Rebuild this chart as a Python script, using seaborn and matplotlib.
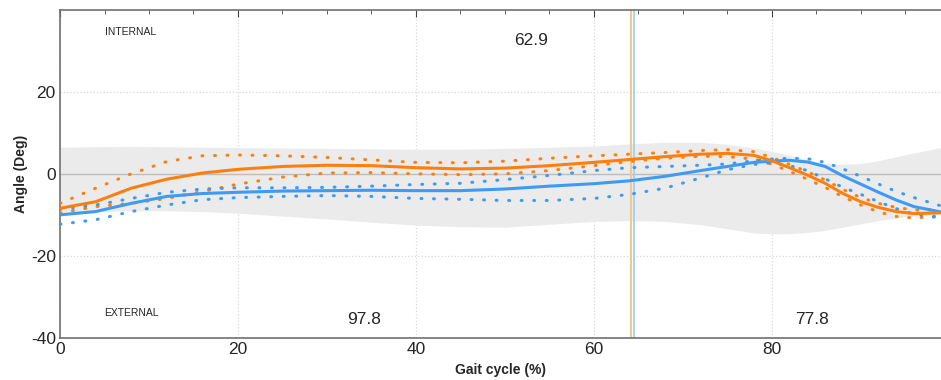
import numpy as np
import pandas as pd
import seaborn as sns
import matplotlib.pyplot as plt

# gait cycle positions (%)
cycle = [0, 4, 8, 12, 16, 20, 25, 30, 35, 40, 45, 50, 55, 60, 64, 68, 72,
         75, 78, 80, 82, 84, 86, 88, 90, 92, 94, 96, 99]

# orange side
orange_mean = [-8.4, -6.8, -3.5, -1.3, 0.2, 1.1, 1.8, 2.1, 2.0, 1.5, 1.2, 1.4,
               2.0, 2.8, 3.5, 4.2, 4.8, 5.0, 4.5, 3.2, 1.5, -0.3, -2.3, -4.8,
               -6.8, -8.2, -9.2, -9.7, -9.5]
orange_upper = [-7.2, -3.5, 0.0, 3.0, 4.4, 4.6, 4.4, 4.0, 3.4, 2.8, 2.7, 3.1,
                3.8, 4.4, 4.8, 5.2, 5.7, 5.9, 5.4, 4.0, 2.3, 0.5, -1.5, -3.8,
                -5.8, -7.2, -8.2, -8.8, -8.8]
orange_lower = [-9.5, -8.0, -7.2, -6.0, -4.3, -2.5, -0.8, 0.2, 0.3, 0.0, -0.2,
                0.0, 0.8, 2.0, 3.0, 3.8, 4.3, 4.2, 3.6, 2.4, 0.6, -1.3, -3.3,
                -5.6, -7.6, -9.3, -10.4, -10.8, -10.2]

# blue side
blue_mean = [-10.0, -9.2, -7.2, -5.5, -4.8, -4.5, -4.2, -4.1, -4.0, -4.1, -4.1,
             -3.7, -3.0, -2.4, -1.7, -0.6, 0.8, 1.8, 2.8, 3.1, 3.3, 2.9, 1.8,
             -0.5, -2.5, -4.5, -6.4, -8.0, -9.3]
blue_upper = [-8.6, -7.6, -6.0, -4.5, -3.7, -3.4, -3.4, -3.3, -3.0, -2.6, -2.3,
              -1.4, -0.4, 0.8, 1.5, 1.8, 2.1, 2.4, 3.2, 3.6, 3.8, 3.7, 2.8,
              1.2, -0.6, -2.5, -4.3, -5.8, -7.8]
blue_lower = [-12.3, -11.2, -9.2, -7.6, -6.3, -5.8, -5.5, -5.3, -5.5, -6.0,
              -6.2, -6.5, -6.5, -6.0, -5.0, -3.5, -1.0, 1.0, 2.3, 2.7, 2.0,
              0.8, -1.2, -3.3, -5.0, -6.8, -8.5, -9.8, -10.8]

# normative grey band
norm_upper = [6.5, 6.6, 6.7, 6.6, 6.5, 6.4, 6.3, 6.2, 6.1, 6.0, 6.0, 6.2, 6.5,
              6.8, 7.3, 7.7, 7.7, 7.2, 6.3, 5.5, 4.5, 3.5, 2.6, 2.3, 2.5, 3.2,
              4.2, 5.1, 6.4]
norm_lower = [-9.8, -9.3, -9.0, -9.0, -9.2, -9.6, -10.3, -11.0, -11.8, -12.5,
              -12.9, -13.0, -12.3, -11.6, -11.4, -11.6, -12.4, -13.4, -14.4,
              -14.6, -14.6, -14.3, -13.8, -13.0, -12.2, -11.4, -10.8, -10.3,
              -9.8]

orange_event = 64.2
blue_event = 64.5

ORANGE = '#ff7f0e'
BLUE = '#3d9bf5'

df = pd.DataFrame({'cycle': cycle,
                   'orange_mean': orange_mean, 'orange_upper': orange_upper,
                   'orange_lower': orange_lower, 'blue_mean': blue_mean,
                   'blue_upper': blue_upper, 'blue_lower': blue_lower})

sns.set_style('white')
plt.rcParams['font.family'] = ['Liberation Sans', 'DejaVu Sans']
plt.rcParams['axes.unicode_minus'] = False

fig = plt.figure(figsize=(9.41, 3.8), dpi=100)
ax = fig.add_axes([0.0638, 0.111, 0.936, 0.863])

ax.fill_between(cycle, norm_lower, norm_upper, color='#ebebeb', lw=0, zorder=1)
ax.axhline(0, color='#bdbdbd', lw=1, zorder=1.5)

# sd lines, dotted
dot = (0, (0.3, 3.8))
for col, c in [('orange_upper', ORANGE), ('orange_lower', ORANGE),
               ('blue_upper', BLUE), ('blue_lower', BLUE)]:
    sns.lineplot(data=df, x='cycle', y=col, ax=ax, color=c, lw=2.2,
                 linestyle=dot, dash_capstyle='round', zorder=3)
sns.lineplot(data=df, x='cycle', y='blue_mean', ax=ax, color=BLUE, lw=2.2, zorder=4)
sns.lineplot(data=df, x='cycle', y='orange_mean', ax=ax, color=ORANGE, lw=2.2, zorder=5)

ax.axvline(orange_event, color='#f0c890', lw=1.5, zorder=2)
ax.axvline(blue_event, color='#9ccdf2', lw=1.2, zorder=2)

ax.set_xlim(0, 99)
ax.set_ylim(-40, 40)
ax.set_xticks([0, 20, 40, 60, 80])
ax.set_yticks([-40, -20, 0, 20])
ax.set_xticks(np.arange(0, 100, 5), minor=True)
ax.set_yticks(np.arange(-40, 41, 5), minor=True)
ax.grid(True, which='major', color='#d9d9d9', ls=':', lw=0.9)
ax.tick_params(which='both', direction='in', top=True, right=False,
               color='#444444')
ax.tick_params(which='major', length=5, labelsize=12.5, pad=3)
ax.tick_params(which='minor', length=3)
for s in ['left', 'bottom', 'top']:
    ax.spines[s].set_color('#707070')
    ax.spines[s].set_linewidth(1.2)
ax.spines['right'].set_visible(False)

ax.set_xlabel('Gait cycle (%)', fontsize=10, fontweight='bold', labelpad=4)
ax.set_ylabel('Angle (Deg)', fontsize=10, fontweight='bold', labelpad=2)

ax.text(5, 34.5, 'INTERNAL', fontsize=7.5, va='center')
ax.text(5, -34, 'EXTERNAL', fontsize=7.5, va='center')
ax.text(53, 32.5, '62.9', fontsize=12.5, ha='center', va='center')
ax.text(34.2, -35.5, '97.8', fontsize=12.5, ha='center', va='center')
ax.text(84.5, -35.5, '77.8', fontsize=12.5, ha='center', va='center')

fig.savefig('out.png', dpi=100)
